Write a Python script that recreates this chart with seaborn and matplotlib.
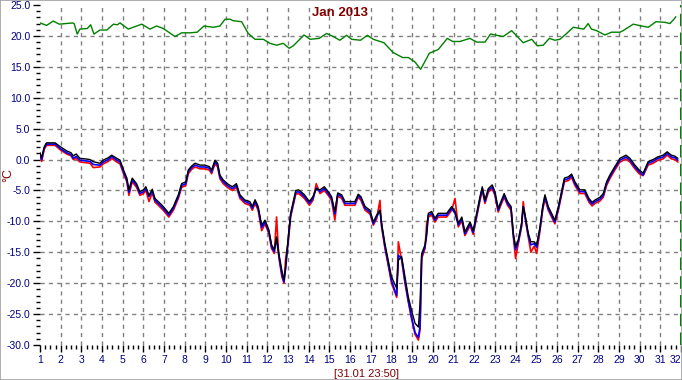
import matplotlib
matplotlib.use("Agg")
import matplotlib.pyplot as plt
import matplotlib.ticker as mticker
from matplotlib.patches import Rectangle
import seaborn as sns
import pandas as pd

# ---- data (day of month as float) ----
out_days = [1.00, 1.08, 1.20, 1.31, 1.50, 1.73, 1.97, 2.29, 2.50, 2.61, 2.75, 2.93, 3.20, 3.42, 3.58,
            3.90, 4.06, 4.30, 4.47, 4.71, 4.87, 5.04, 5.20, 5.30, 5.46, 5.67, 5.83, 6.00, 6.12, 6.27,
            6.43, 6.56, 6.72, 6.96, 7.23, 7.45, 7.69, 7.85, 8.05, 8.17, 8.33, 8.50, 8.74, 8.98, 9.19,
            9.30, 9.46, 9.59, 9.70, 9.86, 10.10, 10.30, 10.50, 10.67, 10.91, 11.15, 11.27, 11.40, 11.55, 11.72,
            11.88, 12.07, 12.20, 12.33, 12.44, 12.55, 12.70, 12.80, 12.88, 13.00, 13.12, 13.25, 13.37, 13.50, 13.62,
            13.79, 14.03, 14.20, 14.36, 14.54, 14.75, 14.94, 15.10, 15.26, 15.40, 15.59, 15.75, 15.99, 16.23, 16.39,
            16.52, 16.72, 16.96, 17.12, 17.28, 17.44, 17.52, 17.68, 17.84, 18.00, 18.25, 18.33, 18.49, 18.65, 18.81,
            18.97, 19.14, 19.30, 19.38, 19.46, 19.62, 19.70, 19.78, 19.94, 20.10, 20.26, 20.43, 20.67, 20.91, 21.07,
            21.23, 21.40, 21.55, 21.80, 21.95, 22.12, 22.28, 22.39, 22.52, 22.68, 22.87, 23.00, 23.16, 23.32, 23.45,
            23.61, 23.78, 23.89, 24.00, 24.13, 24.29, 24.37, 24.48, 24.61, 24.74, 24.90, 25.02, 25.18, 25.31, 25.42,
            25.58, 25.74, 25.90, 26.07, 26.20, 26.36, 26.55, 26.71, 26.87, 27.11, 27.35, 27.55, 27.70, 27.84, 28.08,
            28.24, 28.40, 28.56, 28.80, 29.05, 29.34, 29.53, 29.77, 29.98, 30.17, 30.41, 30.65, 30.89, 31.13, 31.33,
            31.54, 31.70, 31.85]

black = [1.1, 0.3, 2.0, 2.7, 2.7, 2.7, 2.1, 1.4, 1.1, 0.6, 0.9, 0.2, 0.1, 0.0, -0.35,
         -0.6, -0.1, 0.3, 0.7, 0.2, -0.1, -1.7, -3.0, -4.9, -3.0, -3.9, -5.2, -4.9, -4.4, -5.8,
         -4.8, -6.3, -6.8, -7.6, -8.7, -7.6, -5.7, -3.9, -3.6, -1.7, -1.05, -0.6, -0.9, -0.9, -1.15,
         -1.7, -0.1, -0.6, -2.5, -3.3, -4.0, -4.4, -3.9, -5.7, -6.55, -6.8, -7.6, -6.5, -7.6, -10.6,
         -9.8, -11.4, -13.8, -14.6, -12.5, -15.2, -18.0, -19.5, -17.3, -12.8, -8.7, -6.8, -5.0, -4.9, -5.2,
         -5.7, -6.8, -6.0, -4.7, -4.9, -4.4, -5.2, -6.0, -8.4, -5.4, -5.7, -6.8, -6.8, -6.8, -5.6,
         -6.0, -7.6, -8.2, -10.1, -9.0, -8.2, -10.3, -13.6, -16.3, -19.0, -20.8, -16.3, -15.7, -19.0, -22.2,
         -24.4, -26.5, -27.1, -23.3, -15.2, -13.8, -11.9, -8.7, -8.4, -9.5, -8.7, -8.7, -8.7, -7.6, -8.4,
         -10.3, -9.3, -11.7, -10.1, -11.5, -8.7, -6.0, -4.4, -6.55, -4.7, -4.1, -5.2, -7.9, -6.55, -5.5,
         -6.8, -7.6, -11.9, -14.1, -13.0, -10.3, -7.6, -9.3, -11.9, -13.3, -13.3, -13.8, -10.9, -7.6, -5.7,
         -7.6, -8.7, -9.8, -7.6, -5.5, -3.0, -2.8, -2.35, -3.6, -4.9, -4.9, -6.3, -6.9, -6.55, -6.1,
         -5.5, -3.6, -2.5, -1.15, 0.2, 0.7, 0.2, -0.9, -1.7, -2.2, -0.35, 0.0, 0.45, 0.7, 1.25,
         0.7, 0.55, 0.2]

blue = [0.8, 0.0, 1.8, 2.5, 2.5, 2.5, 1.8, 1.1, 0.8, 0.2, 0.5, -0.1, -0.2, -0.3, -0.8,
        -0.9, -0.4, 0.0, 0.5, -0.1, -0.4, -2.0, -3.3, -5.3, -3.3, -4.2, -5.5, -5.2, -4.7, -6.0,
        -5.1, -6.6, -7.1, -7.9, -9.0, -7.9, -6.0, -4.2, -3.9, -2.0, -1.3, -0.9, -1.2, -1.2, -1.4,
        -2.0, -0.4, -0.9, -2.8, -3.6, -4.3, -4.7, -4.2, -6.0, -6.8, -7.1, -7.9, -6.8, -7.9, -11.0,
        -10.1, -11.7, -14.1, -14.9, -12.8, -15.5, -18.6, -19.8, -17.6, -13.2, -9.0, -7.1, -5.3, -5.2, -5.5,
        -6.0, -7.1, -6.3, -4.6, -5.2, -4.7, -5.5, -6.3, -8.8, -5.6, -6.0, -7.1, -7.1, -7.1, -5.8,
        -6.3, -7.9, -8.5, -10.4, -9.3, -8.2, -10.6, -14.0, -16.8, -19.6, -22.0, -15.5, -16.0, -19.6, -22.8,
        -25.5, -28.0, -28.8, -27.0, -15.6, -14.1, -12.2, -9.0, -8.7, -9.8, -9.0, -9.0, -9.0, -7.9, -8.7,
        -10.6, -9.6, -12.0, -10.4, -11.8, -9.0, -6.3, -4.7, -6.8, -5.0, -4.4, -5.5, -8.2, -6.8, -5.8,
        -7.1, -7.9, -12.2, -14.6, -13.3, -10.6, -7.6, -9.6, -12.2, -13.8, -13.6, -14.2, -11.2, -7.9, -6.0,
        -7.9, -9.0, -10.1, -7.9, -5.8, -3.3, -3.1, -2.6, -3.9, -5.2, -5.2, -6.6, -7.2, -6.8, -6.4,
        -5.8, -3.9, -2.8, -1.4, -0.1, 0.4, -0.1, -1.2, -2.0, -2.5, -0.6, -0.3, 0.2, 0.4, 1.0,
        0.4, 0.3, -0.1]

red = [0.6, -0.3, 1.6, 2.3, 2.3, 2.3, 1.6, 0.9, 0.6, 0.0, 0.2, -0.4, -0.5, -0.6, -1.3,
       -1.2, -0.7, -0.3, 0.2, -0.4, -0.7, -2.3, -3.6, -5.8, -3.6, -4.5, -5.8, -5.5, -5.0, -6.8,
       -5.4, -6.9, -7.4, -8.2, -9.3, -8.2, -6.3, -4.5, -4.2, -2.3, -1.6, -1.2, -1.5, -1.5, -1.7,
       -2.3, -0.7, -1.2, -3.1, -3.9, -4.6, -5.0, -4.5, -6.3, -7.1, -7.4, -8.2, -7.1, -8.2, -11.5,
       -10.4, -12.0, -14.4, -15.2, -9.3, -15.8, -19.0, -20.0, -16.0, -13.5, -9.3, -7.4, -5.6, -5.5, -5.8,
       -6.3, -7.4, -6.6, -3.9, -5.5, -5.0, -5.8, -6.6, -9.8, -5.9, -6.3, -7.4, -7.4, -7.4, -6.1,
       -6.6, -8.2, -8.8, -10.6, -9.6, -6.6, -10.9, -14.3, -17.1, -20.0, -22.3, -13.3, -16.3, -20.0, -23.0,
       -25.8, -28.3, -29.2, -27.5, -16.0, -14.4, -10.3, -9.3, -9.0, -10.1, -9.3, -9.3, -9.3, -8.2, -6.3,
       -10.9, -9.9, -12.3, -10.7, -12.1, -9.3, -6.6, -5.0, -7.1, -5.3, -4.7, -5.8, -8.5, -7.1, -6.1,
       -7.4, -8.2, -12.5, -16.0, -13.6, -10.9, -6.8, -9.9, -12.5, -15.0, -14.0, -15.2, -11.5, -8.2, -6.3,
       -8.2, -9.3, -10.4, -8.2, -6.1, -3.6, -3.4, -2.9, -4.2, -5.5, -5.5, -6.9, -7.5, -7.1, -6.7,
       -6.1, -4.2, -3.1, -1.7, -0.4, 0.1, -0.4, -1.5, -2.3, -2.6, -0.9, -0.6, -0.1, 0.1, 0.7,
       0.1, 0.0, -0.4]

in_days = [1.00, 1.32, 1.64, 1.93, 2.58, 2.65, 2.80, 2.93, 3.29, 3.45, 3.61, 3.90, 4.23, 4.55, 4.74,
           4.87, 5.27, 5.51, 5.92, 6.32, 6.64, 6.96, 7.53, 7.85, 8.25, 8.60, 8.93, 9.38, 9.70, 9.95,
           10.19, 10.35, 10.75, 11.07, 11.40, 11.80, 12.12, 12.45, 12.76, 13.05, 13.25, 13.77, 14.06, 14.50, 14.86,
           15.18, 15.50, 15.83, 16.07, 16.50, 16.83, 17.12, 17.63, 18.08, 18.54, 18.81, 19.13, 19.41, 19.83, 20.26,
           20.70, 20.96, 21.15, 21.31, 21.79, 22.12, 22.52, 22.79, 23.40, 23.81, 24.37, 24.78, 25.05, 25.34, 25.63,
           25.90, 26.14, 26.39, 26.79, 27.11, 27.30, 27.51, 27.67, 27.92, 28.32, 28.64, 29.05, 29.20, 29.69, 30.10,
           30.42, 30.79, 31.22, 31.46, 31.66, 31.75]
green = [22.1, 21.7, 22.4, 21.9, 22.1, 22.0, 20.3, 21.1, 21.2, 21.8, 20.3, 20.95, 20.95, 21.9, 21.8,
         22.1, 21.1, 21.4, 21.9, 21.1, 21.6, 21.2, 19.9, 20.5, 20.5, 20.6, 21.6, 21.4, 21.6, 22.7,
         22.7, 22.45, 22.3, 20.4, 19.45, 19.45, 18.8, 18.5, 18.8, 18.0, 18.4, 20.15, 19.45, 19.6, 20.4,
         19.9, 19.3, 20.1, 19.45, 19.3, 20.1, 19.45, 18.9, 17.3, 16.5, 16.5, 15.8, 14.6, 17.2, 17.8,
         19.6, 19.1, 19.1, 19.1, 19.6, 19.0, 19.0, 20.3, 19.9, 20.85, 18.9, 19.45, 18.4, 18.5, 19.6,
         19.3, 19.45, 20.15, 21.4, 21.2, 21.1, 22.0, 21.1, 20.85, 20.15, 20.6, 20.6, 20.85, 21.9, 21.6,
         21.4, 22.3, 22.2, 22.0, 22.7, 23.1]

day_ticks = list(range(1, 33))
y_ticks = [-30, -25, -20, -15, -10, -5, 0, 5, 10, 15, 20, 25]
title_text = "Jan 2013"
xlabel_text = "[31.01 23:50]"
ylabel_text = "°C"

# ---- plotting ----
sns.set_theme(style="white")
plt.rcParams['font.family'] = ['Liberation Sans', 'DejaVu Sans']

W, H = 682, 380
fig = plt.figure(figsize=(W / 100, H / 100), dpi=100)
fig.patch.set_facecolor("white")
ax = fig.add_axes([40 / W, 1 - 345 / H, 641 / W, 340 / H])
ax.set_facecolor("white")

navy = "#000080"
dred = "#800000"
gridc = "#808080"

ax.set_xlim(1, 32)
ax.set_ylim(-30, 25)

# grid (interior only)
for d in day_ticks[1:-1]:
    ax.axvline(d, color=gridc, lw=1.0, ls=(0, (3, 3)), zorder=0)
for v in y_ticks[1:-1]:
    ax.axhline(v, color=gridc, lw=1.0, ls=(0, (3, 3)), zorder=0)

df_out = pd.DataFrame({"day": out_days, "black": black, "blue": blue, "red": red})
df_in = pd.DataFrame({"day": in_days, "green": green})

sns.lineplot(data=df_in, x="day", y="green", ax=ax, color="#008000", lw=1.0, estimator=None, sort=False)
sns.lineplot(data=df_out, x="day", y="red", ax=ax, color="#FF0000", lw=1.2, estimator=None, sort=False)
sns.lineplot(data=df_out, x="day", y="blue", ax=ax, color="#0000FF", lw=1.2, estimator=None, sort=False)
sns.lineplot(data=df_out, x="day", y="black", ax=ax, color="#000000", lw=1.0, estimator=None, sort=False)

ax.axvline(32, color="#008000", lw=1.5, ls=(0, (6, 3)), zorder=5, clip_on=False)

for s in ax.spines.values():
    s.set_visible(False)

ax.xaxis.set_major_locator(mticker.FixedLocator(day_ticks))
ax.xaxis.set_minor_locator(mticker.MultipleLocator(0.25))
ax.yaxis.set_major_locator(mticker.FixedLocator(y_ticks))
ax.yaxis.set_minor_locator(mticker.MultipleLocator(1))
ax.yaxis.set_major_formatter(mticker.FormatStrFormatter("%.1f"))
ax.set_xticklabels([str(d) for d in day_ticks])

ax.tick_params(axis="both", which="major", direction="out", length=5, width=1.0,
               color="black", labelcolor=navy, labelsize=7.5, pad=2, bottom=True, left=True)
ax.tick_params(axis="both", which="minor", direction="out", length=3, width=1.0,
               color="black", bottom=True, left=True)
ax.get_xticklabels()[-1].set_horizontalalignment("right")

ax.set_xlabel(xlabel_text, color=dred, fontsize=8)
ax.set_ylabel(ylabel_text, color=dred, fontsize=9)
ax.xaxis.set_label_coords((366.5 - 40) / 641, -(369 - 345) / 340)
ax.yaxis.set_label_coords(-(26) / 641, 0.5)
fig.text(340.5 / W, 1 - 12.5 / H, title_text, color=dred, fontsize=9.5,
         fontweight="bold", ha="center", va="center")

fig.patches.append(Rectangle((0.0007, 0.0013), 0.9986, 0.9974, transform=fig.transFigure,
                             fill=False, edgecolor="#a0a0a0", lw=1.2))

fig.savefig("out.png", dpi=100, facecolor="white")
